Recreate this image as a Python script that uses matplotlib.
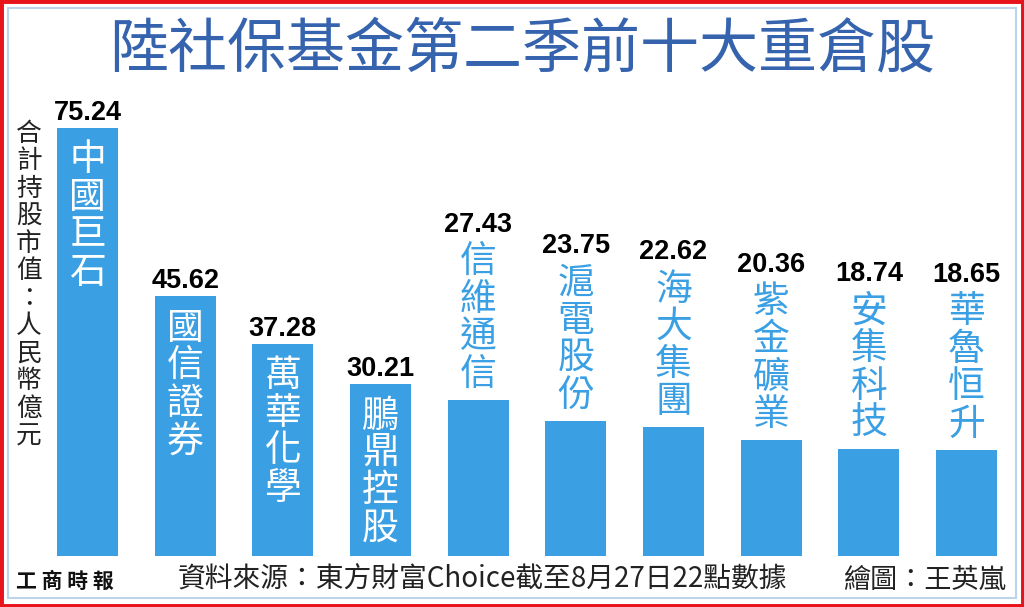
import matplotlib
matplotlib.use("Agg")
import matplotlib.pyplot as plt
from matplotlib.patches import Rectangle

# ---- data ----
title = "陸社保基金第二季前十大重倉股"
ylabel = "合計持股市值：人民幣億元"
names = ["中國巨石", "國信證券", "萬華化學", "鵬鼎控股", "信維通信",
         "滬電股份", "海大集團", "紫金礦業", "安集科技", "華魯恒升"]
values = [75.24, 45.62, 37.28, 30.21, 27.43, 23.75, 22.62, 20.36, 18.74, 18.65]
source = "資料來源：東方財富Choice截至8月27日22點數據"
credit = "繪圖：王英嵐"
logo = "工商時報"

CJK = ["Noto Sans CJK TC", "DejaVu Sans"]
NUM = ["Liberation Sans", "DejaVu Sans"]
BAR = "#3a9fe3"
TITLE_C = "#3563ae"

W, H = 1024, 607
fig = plt.figure(figsize=(W / 100, H / 100), dpi=100)
fig.patch.set_facecolor("white")

def fx(px):
    return px / W

def fy(py):
    return 1 - py / H

# frame
fig.patches.append(Rectangle((0, 0), 1, 1, transform=fig.transFigure,
                             fill=False, ec="#e8141c", lw=5, zorder=0))
fig.patches.append(Rectangle((fx(8), fy(598)), fx(1008), 590 / H,
                             transform=fig.transFigure, fill=False,
                             ec="#bcd3ea", lw=1.5, zorder=0))

# axes: bar centres at 87.5px ... 966.5px, baseline at y=556px
spacing = (966.5 - 87.5) / 9
left_px = 87.5 - spacing / 2
ax_w = spacing * 10
ppu = 428 / 75.24  # pixels per unit
ymax = 90
ax_h = ppu * ymax
ax = fig.add_axes([fx(left_px), fy(556), fx(ax_w), ax_h / H])
ax.set_xlim(-0.5, 9.5)
ax.set_ylim(0, ymax)
ax.axis("off")

x = list(range(len(values)))
ax.bar(x, values, width=61 / spacing, color=BAR, zorder=2)

P = 0.72  # px -> pt
pitch = 37.5
for i, (n, v) in enumerate(zip(names, values)):
    inside = v * ppu > 170
    if inside:
        ax.annotate(f"{v:.2f}", (i, v), xytext=(0, 8 * P), textcoords="offset points",
                    ha="center", va="baseline", fontsize=19.5, fontweight="bold",
                    family=NUM, color="black")
        for k, ch in enumerate(n):
            off = -(13 + pitch / 2 + k * pitch)
            ax.annotate(ch, (i, v), xytext=(0, off * P), textcoords="offset points",
                        ha="center", va="center", fontsize=26.5, family=CJK,
                        color="white", zorder=3)
    else:
        ax.annotate(f"{v:.2f}", (i, v), xytext=(0, 168 * P), textcoords="offset points",
                    ha="center", va="baseline", fontsize=19.5, fontweight="bold",
                    family=NUM, color="black")
        for k, ch in enumerate(reversed(n)):
            off = 7 + pitch / 2 + k * pitch
            ax.annotate(ch, (i, v), xytext=(0, off * P), textcoords="offset points",
                        ha="center", va="center", fontsize=26.5, family=CJK,
                        color=BAR, zorder=3)

# title
fig.text(fx(522), fy(50), title, ha="center", va="center", fontsize=42.5,
         fontweight="medium", family=CJK, color=TITLE_C)

# vertical y label
for k, ch in enumerate(ylabel):
    fig.text(fx(29), fy(134 + k * 27.5), ch, ha="center", va="center",
             fontsize=18.5, family=CJK, color="#222222")

# footer
fig.text(fx(178), fy(580), source, ha="left", va="center", fontsize=20,
         family=CJK, color="#222222")
fig.text(fx(1006), fy(580), credit, ha="right", va="center", fontsize=19.5,
         family=CJK, color="#222222")
fig.text(fx(16), fy(581), " ".join(logo), ha="left", va="center",
         fontsize=15, fontweight="bold", family=CJK, color="#111111")

fig.savefig("out.png", dpi=100)
